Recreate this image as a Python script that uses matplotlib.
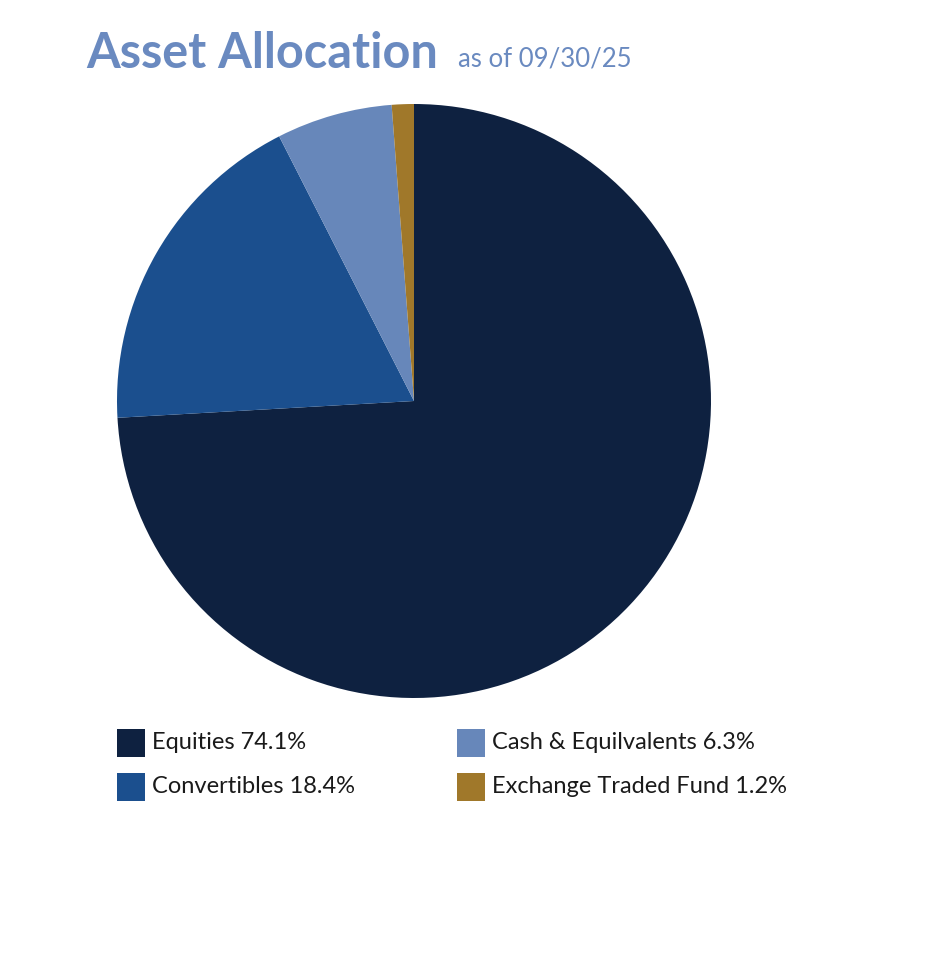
import matplotlib
matplotlib.use("Agg")
import matplotlib.pyplot as plt
from matplotlib.patches import Rectangle

categories = ["Equities", "Convertibles", "Cash & Equilvalents", "Exchange Traded Fund"]
values = [74.1, 18.4, 6.3, 1.2]
colors = ["#0E2140", "#1B4F8E", "#6787BA", "#A0782A"]
title = "Asset Allocation"
subtitle = "as of 09/30/25"

W, H = 939, 974
fig = plt.figure(figsize=(W / 100, H / 100), dpi=100)
fig.patch.set_facecolor("white")

def fx(px):
    return px / W

def fy(py):
    return 1 - py / H

# pie
cx, cy, r = 414, 401, 297
ax = fig.add_axes([fx(cx - r), fy(cy + r), 2 * r / W, 2 * r / H])
ax.pie(values, colors=colors, startangle=90, counterclock=False,
       radius=1, wedgeprops=dict(linewidth=0))
ax.set_xlim(-1, 1)
ax.set_ylim(-1, 1)
ax.set_aspect("auto")
ax.axis("off")

# title
tcol = "#6A8AC0"
fig.text(fx(86), fy(68), title, fontsize=35, fontweight="bold", family="Lato",
         color=tcol, ha="left", va="baseline")
fig.text(fx(458), fy(67), subtitle, fontsize=18.5, family="Lato",
         color=tcol, ha="left", va="baseline")

# legend
pos = [(117, 729), (117, 773), (457, 729), (457, 773)]
for (x, y), cat, v, c in zip(pos, categories, values, colors):
    fig.patches.append(Rectangle((fx(x), fy(y + 28)), 28 / W, 28 / H,
                                 transform=fig.transFigure, facecolor=c,
                                 edgecolor="none"))
    fig.text(fx(x + 35), fy(y + 20), f"{cat} {v}%", fontsize=17,
             family="Lato", fontweight="normal", color="#1a1a1a",
             ha="left", va="baseline")

fig.savefig("out.png", dpi=100, facecolor="white")
